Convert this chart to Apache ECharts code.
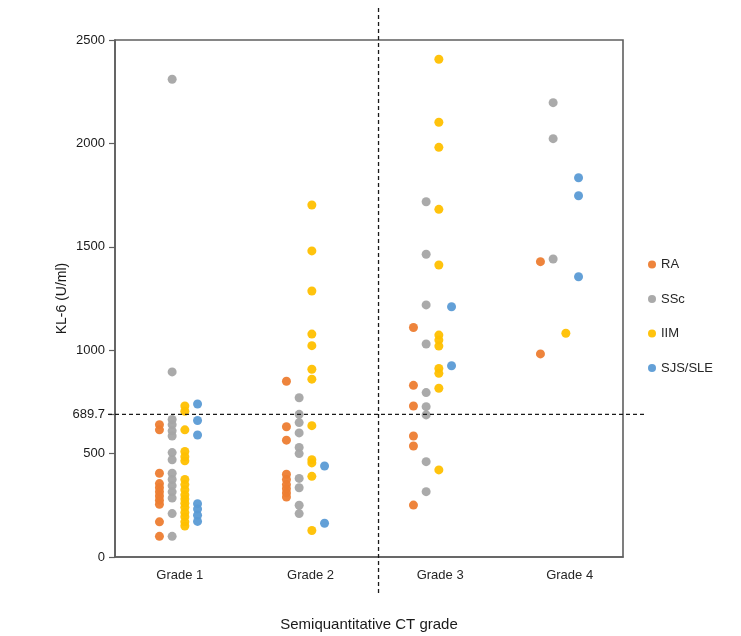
<!DOCTYPE html>
<html>
<head>
<meta charset="utf-8">
<script src="https://cdn.jsdelivr.net/npm/echarts@6/dist/echarts.min.js"></script>
<style>
  html, body { margin: 0; padding: 0; background: #fff; }
  #chart { width: 741px; height: 636px; }
</style>
</head>
<body>
<div id="chart"></div>
<script>
// KL-6 serum level by semiquantitative CT grade, grouped by underlying disease
const grades = ['Grade 1', 'Grade 2', 'Grade 3', 'Grade 4'];
const seriesNames = ['RA', 'SSc', 'IIM', 'SJS/SLE'];

// one list of KL-6 values (U/ml) per grade
const RA = [
  [640, 615, 405, 355, 335, 315, 295, 275, 255, 170, 100],
  [850, 630, 565, 400, 375, 350, 330, 310, 290],
  [1110, 830, 730, 585, 537, 251],
  [1428, 982]
];
const SSc = [
  [2310, 895, 665, 640, 610, 585, 505, 470, 405, 375, 345, 315, 285, 210, 100],
  [770, 690, 650, 600, 530, 500, 380, 335, 250, 210],
  [1718, 1464, 1219, 1030, 795, 727, 687, 461, 316],
  [2197, 2023, 1441]
];
const IIM = [
  [730, 705, 615, 510, 485, 465, 375, 350, 325, 300, 280, 260, 240, 215, 195, 170, 150],
  [1702, 1480, 1286, 1078, 1022, 908, 860, 635, 470, 455, 390, 128],
  [2407, 2102, 1981, 1681, 1412, 1073, 1049, 1020, 912, 888, 816, 421],
  [1082]
];
const SJS = [
  [740, 660, 590, 258, 232, 202, 172],
  [440, 163],
  [1210, 925],
  [1834, 1747, 1355]
];

// KL-6 cut-off value
const cutoff = 689.7;
const yTicks = [0, 500, 689.7, 1000, 1500, 2000, 2500];

const colors = ['#ED7D31', '#A5A5A5', '#FFC000', '#5B9BD5'];
const groups = [RA, SSc, IIM, SJS];
// horizontal dodge of each disease column inside a grade slot
const dodge = [-0.15, -0.05, 0.05, 0.15];
// where the grade labels sit along the x axis
const gradeLabelPos = [0.51, 1.54, 2.56, 3.58];
// divider between low and high grades
const dividerX = 2.075;

const font = '"Liberation Sans", Arial, sans-serif';

const series = groups.map((g, s) => ({
  name: seriesNames[s],
  type: 'scatter',
  symbol: 'circle',
  symbolSize: 9,
  itemStyle: { color: colors[s], opacity: 0.95 },
  data: g.flatMap((vals, gi) => vals.map(v => [gi + 0.5 + dodge[s], v]))
}));

const chart = echarts.init(document.getElementById('chart'), null, { renderer: 'canvas' });

chart.setOption({
  animation: false,
  backgroundColor: '#ffffff',
  textStyle: { fontFamily: font },
  grid: {
    left: 115, right: 118, top: 40, bottom: 79,
    outerBoundsMode: 'none',
    containLabel: false,
    show: true, borderColor: '#5f5f5f', borderWidth: 1.6, backgroundColor: 'transparent'
  },
  legend: {
    orient: 'vertical',
    left: 643,
    top: 253,
    itemGap: 21.5,
    itemWidth: 8,
    itemHeight: 8,
    icon: 'circle',
    data: seriesNames,
    textStyle: { fontFamily: font, fontSize: 13, color: '#262626', padding: [0, 0, 0, 0] }
  },
  xAxis: {
    type: 'value',
    min: 0,
    max: 4,
    interval: 1,
    name: 'Semiquantitative CT grade',
    nameLocation: 'middle',
    nameGap: 60,
    nameMoveOverlap: false,
    nameTextStyle: { fontFamily: font, fontSize: 15, color: '#1a1a1a' },
    axisLine: { show: true, lineStyle: { color: '#5f5f5f', width: 1.6 } },
    axisTick: { show: false },
    splitLine: { show: false },
    axisLabel: {
      customValues: gradeLabelPos,
      formatter: v => grades[gradeLabelPos.indexOf(v)] || '',
      margin: 12,
      fontFamily: font,
      fontSize: 13,
      color: '#262626'
    }
  },
  yAxis: {
    type: 'value',
    min: 0,
    max: 2500,
    interval: 500,
    name: 'KL-6 (U/ml)',
    nameLocation: 'middle',
    nameGap: 46,
    nameRotate: 90,
    nameMoveOverlap: false,
    nameTextStyle: { fontFamily: font, fontSize: 14, color: '#1a1a1a' },
    axisLine: { show: true, lineStyle: { color: '#5f5f5f', width: 1.6 } },
    axisTick: { show: true, inside: false, length: 6, customValues: yTicks,
      lineStyle: { color: '#5f5f5f', width: 1.2 } },
    splitLine: { show: false },
    axisLabel: {
      customValues: yTicks,
      formatter: v => String(v),
      margin: 10,
      fontFamily: font,
      fontSize: 13,
      color: '#1a1a1a'
    }
  },
  series: series
});

// dashed reference lines, reaching a little beyond the plot frame
const rect = chart.getModel().getComponent('grid').coordinateSystem.getRect();
const yCut = chart.convertToPixel({ yAxisIndex: 0 }, cutoff);
const xDiv = chart.convertToPixel({ xAxisIndex: 0 }, dividerX);
const dash = { stroke: '#1a1a1a', lineWidth: 1.3, lineDash: [4, 3] };
chart.setOption({
  graphic: [
    { type: 'line', z: 10, silent: true,
      shape: { x1: rect.x - 7, y1: yCut, x2: rect.x + rect.width + 22, y2: yCut },
      style: dash },
    { type: 'line', z: 10, silent: true,
      shape: { x1: xDiv, y1: rect.y - 32, x2: xDiv, y2: rect.y + rect.height + 38 },
      style: dash }
  ]
});
</script>
</body>
</html>
